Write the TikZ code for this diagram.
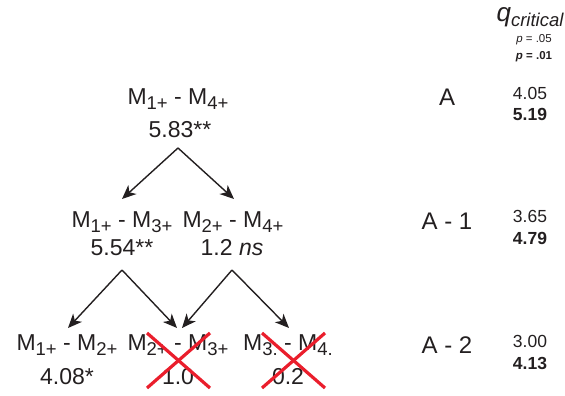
\documentclass[tikz,border=0pt]{standalone}
\usepackage{fontspec}
\setmainfont{Liberation Sans}
\usetikzlibrary{arrows.meta}
\definecolor{ink}{RGB}{35,31,32}
\definecolor{crossred}{RGB}{234,30,44}
\newcommand{\sub}[2]{\raisebox{-#1}{\fontsize{18.5}{18.5}\selectfont #2}}
\newcommand{\M}[1]{M\sub{4.5pt}{#1}}
\tikzset{
  pair/.style={font=\fontsize{23}{26}\selectfont, inner sep=0pt, text=ink},
  stat/.style={font=\fontsize{23}{26}\selectfont, inner sep=0pt, text=ink},
  level/.style={font=\fontsize{24}{26}\selectfont, inner sep=0pt, text=ink},
  crit/.style={font=\fontsize{17.5}{20}\selectfont, inner sep=0pt, text=ink},
  critbold/.style={crit, font=\fontsize{17.5}{20}\selectfont\bfseries},
  link/.style={-{Stealth[length=14pt,width=12pt,inset=4pt]}, line width=1.4pt, draw=ink},
  strike/.style={crossred, line width=3.2pt}
}
\begin{document}
\begin{tikzpicture}[x=1pt,y=-1pt]
	\useasboundingbox (0,0) rectangle (565,396);
	
	% q critical header
	\node[font=\fontsize{26}{28}\selectfont\itshape, inner sep=0pt, text=ink] (qhead) at (530,17) {q\sub{5pt}{critical}};
	\node[font=\fontsize{11.5}{13}\selectfont, inner sep=0pt, text=ink] (p05) at (534,40) {\textit{p} = .05};
	\node[font=\fontsize{11.5}{13}\selectfont\bfseries, inner sep=0pt, text=ink] (p01) at (534,57) {\textit{p} = .01};
	
	% level A
	\node[pair] (ad) at (178,99) {\M{1+} - \M{4+}};
	\node[stat] (adv) at (180,130) {5.83**};
	\node[level] (la) at (447,97) {A};
	\node[crit] (ca05) at (530,93) {4.05};
	\node[critbold] (ca01) at (530,114) {5.19};
	
	% level A - 1
	\node[pair] (ac) at (122,222) {\M{1+} - \M{3+}};
	\node[stat] (acv) at (122,248) {5.54**};
	\node[pair] (bd) at (233,222) {\M{2+} - \M{4+}};
	\node[stat] (bdv) at (232,248) {1.2 \textit{ns}};
	\node[level] (lb) at (447,221) {A - 1};
	\node[crit] (cb05) at (530,216) {3.65};
	\node[critbold] (cb01) at (530,238) {4.79};
	
	% level A - 2
	\node[pair] (ab) at (67,345) {\M{1+} - \M{2+}};
	\node[stat] (abv) at (67,377) {4.08*};
	\node[pair] (bc) at (178,345) {\M{2+} - \M{3+}};
	\node[stat] (bcv) at (178,377) {1.0};
	\node[pair] (cd) at (288,345) {\M{3.} - \M{4.}};
	\node[stat] (cdv) at (288,377) {0.2};
	\node[level] (lc) at (447,345) {A - 2};
	\node[crit] (cc05) at (530,341) {3.00};
	\node[critbold] (cc01) at (530,363) {4.13};
	
	% arrows
	\coordinate (adout) at (178,148);
	\coordinate (acout) at (122,270);
	\coordinate (bdout) at (232,270);
	\coordinate (acin) at (122,199);
	\coordinate (bdin) at (234,199);
	\coordinate (abin) at (68,328);
	\coordinate (bcinl) at (177,328);
	\coordinate (bcinr) at (182,328);
	\coordinate (cdin) at (289,328);
	\draw[link] (adout) -- (acin);
	\draw[link] (adout) -- (bdin);
	\draw[link] (acout) -- (abin);
	\draw[link] (acout) -- (bcinl);
	\draw[link] (bdout) -- (bcinr);
	\draw[link] (bdout) -- (cdin);
	
	% crossed out
	\draw[strike] (147,333) -- (210,388);
	\draw[strike] (147,388) -- (210,333);
	\draw[strike] (262,333) -- (325,388);
	\draw[strike] (262,388) -- (325,333);
\end{tikzpicture}
\end{document}
